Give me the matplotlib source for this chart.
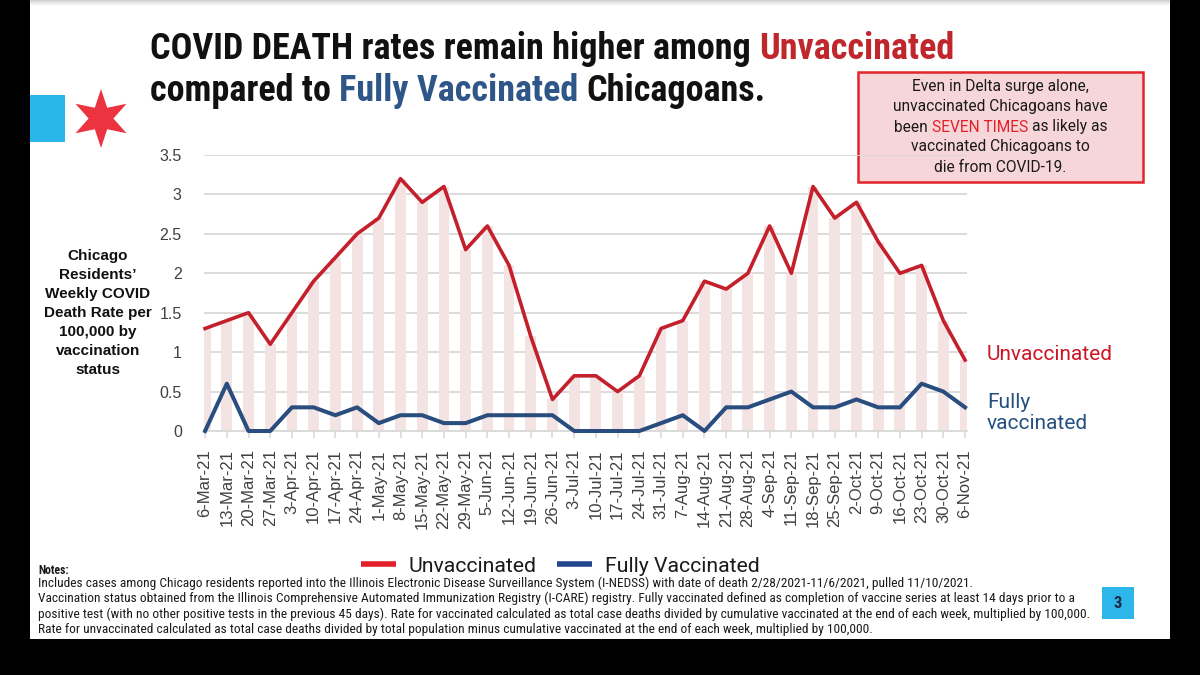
import matplotlib
matplotlib.use('Agg')
import matplotlib.pyplot as plt
import numpy as np
from matplotlib import font_manager as fm
from matplotlib.patches import Rectangle, Polygon
from matplotlib.lines import Line2D

# ---------------- data ----------------
dates = ["6-Mar-21", "13-Mar-21", "20-Mar-21", "27-Mar-21", "3-Apr-21", "10-Apr-21",
         "17-Apr-21", "24-Apr-21", "1-May-21", "8-May-21", "15-May-21", "22-May-21",
         "29-May-21", "5-Jun-21", "12-Jun-21", "19-Jun-21", "26-Jun-21", "3-Jul-21",
         "10-Jul-21", "17-Jul-21", "24-Jul-21", "31-Jul-21", "7-Aug-21", "14-Aug-21",
         "21-Aug-21", "28-Aug-21", "4-Sep-21", "11-Sep-21", "18-Sep-21", "25-Sep-21",
         "2-Oct-21", "9-Oct-21", "16-Oct-21", "23-Oct-21", "30-Oct-21", "6-Nov-21"]
unvaccinated = [1.3, 1.4, 1.5, 1.1, 1.5, 1.9, 2.2, 2.5, 2.7, 3.2, 2.9, 3.1,
                2.3, 2.6, 2.1, 1.2, 0.4, 0.7, 0.7, 0.5, 0.7, 1.3, 1.4, 1.9,
                1.8, 2.0, 2.6, 2.0, 3.1, 2.7, 2.9, 2.4, 2.0, 2.1, 1.4, 0.9]
fully_vaccinated = [0.0, 0.6, 0.0, 0.0, 0.3, 0.3, 0.2, 0.3, 0.1, 0.2, 0.2, 0.1,
                    0.1, 0.2, 0.2, 0.2, 0.2, 0.0, 0.0, 0.0, 0.0, 0.1, 0.2, 0.0,
                    0.3, 0.3, 0.4, 0.5, 0.3, 0.3, 0.4, 0.3, 0.3, 0.6, 0.5, 0.3]
y_ticks = [0, 0.5, 1, 1.5, 2, 2.5, 3, 3.5]
y_tick_labels = ["0", "0.5", "1", "1.5", "2", "2.5", "3", "3.5"]
series_names = ["Unvaccinated", "Fully Vaccinated"]

title_line1 = [("COVID DEATH rates remain higher among", "#111111"), ("Unvaccinated", "#c0272d")]
title_line2 = [("compared to", "#111111"), ("Fully Vaccinated", "#2f5688"), ("Chicagoans.", "#111111")]
callout_lines = [
    [("Even in Delta surge alone,", "#1a1a1a")],
    [("unvaccinated Chicagoans have", "#1a1a1a")],
    [("been", "#1a1a1a"), ("SEVEN TIMES", "#e3202a"), ("as likely as", "#1a1a1a")],
    [("vaccinated Chicagoans to", "#1a1a1a")],
    [("die from COVID-19.", "#1a1a1a")],
]
notes = [
    "Includes cases among Chicago residents reported into the Illinois Electronic Disease Surveillance System (I-NEDSS) with date of death 2/28/2021-11/6/2021, pulled 11/10/2021.",
    "Vaccination status obtained from the Illinois Comprehensive Automated Immunization Registry (I-CARE) registry. Fully vaccinated defined as completion of vaccine series at least 14 days prior to a",
    "positive test (with no other positive tests in the previous 45 days). Rate for vaccinated calculated as total case deaths divided by cumulative vaccinated at the end of each week, multiplied by 100,000.",
    "Rate for unvaccinated calculated as total case deaths divided by total population minus cumulative vaccinated at the end of each week, multiplied by 100,000.",
]

# ---------------- fonts ----------------
available = {f.name for f in fm.fontManager.ttflist}
def pick(*names):
    for n in names:
        if n in available:
            return n
    return 'DejaVu Sans'

NARROW = pick('Liberation Sans Narrow', 'DejaVu Sans Condensed', 'Roboto Condensed', 'Liberation Sans')
ROBOTO = pick('Roboto', 'DejaVu Sans')
CAL = pick('Liberation Sans', 'DejaVu Sans')

W, H = 1200, 675
fig = plt.figure(figsize=(12, 6.75), dpi=100, facecolor='black')
renderer = fig.canvas.get_renderer()

def fx(x):
    return x / W

def fy(y):
    return 1 - y / H

def wpx(t):
    return t.get_window_extent(renderer).width

def add_rect(x0, y0, x1, y1, **kw):
    r = Rectangle((fx(x0), fy(y1)), fx(x1) - fx(x0), fy(y0) - fy(y1),
                  transform=fig.transFigure, **kw)
    fig.patches.append(r)
    return r

# white slide with faint top shadow
add_rect(30, 0, 1170, 639, facecolor='white', edgecolor='none', zorder=-5)
for i, g in enumerate([0.82, 0.86, 0.9, 0.93, 0.96, 0.98]):
    add_rect(30, i, 1170, i + 1, facecolor=(g, g, g), edgecolor='none', zorder=-4)

# logo: blue block and Chicago star
add_rect(30, 95, 65, 142, facecolor='#2bb6ea', edgecolor='none', zorder=1)
cx, cy, R = 101, 118.5, 29.5
verts = []
for k in range(12):
    ang = np.deg2rad(90 + 30 * k)
    r = R if k % 2 == 0 else R * 0.42
    verts.append((fx(cx + r * np.cos(ang)), fy(cy - r * np.sin(ang))))
fig.patches.append(Polygon(verts, closed=True, transform=fig.transFigure,
                           facecolor='#ec3340', edgecolor='none', zorder=1))

# ---------------- piecewise coloured text ----------------
def place_pieces(pieces, x0, y, size, family, weight='normal', ha='left', va='baseline'):
    objs = [fig.text(0, fy(y), s, color=c, fontsize=size, family=family,
                     weight=weight, va=va, zorder=5) for s, c in pieces]
    t1 = fig.text(0, 0, "a a", fontsize=size, family=family, weight=weight)
    t2 = fig.text(0, 0, "aa", fontsize=size, family=family, weight=weight)
    sp = wpx(t1) - wpx(t2)
    t1.remove(); t2.remove()
    widths = [wpx(t) for t in objs]
    total = sum(widths) + sp * (len(objs) - 1)
    x = x0 if ha == 'left' else x0 - total / 2
    for t, w in zip(objs, widths):
        t.set_x(fx(x))
        x += w + sp
    return objs

# title size fitted to the reference width of line 1
probe = fig.text(0, 0, " ".join(s for s, _ in title_line1), fontsize=30,
                 family=NARROW, weight='bold')
title_size = 30 * 805 / wpx(probe)
probe.remove()
place_pieces(title_line1, 150, 59, title_size, NARROW, 'bold')
place_pieces(title_line2, 150, 101, title_size, NARROW, 'bold')

# ---------------- chart ----------------
ax = fig.add_axes([fx(204), fy(431), fx(967) - fx(204), fy(155) - fy(431)])
ax.set_zorder(3)
ax.set_facecolor('none')
x = np.arange(len(dates))
ax.bar(x, unvaccinated, width=0.5, color='#f4e3e3', zorder=1)
ax.plot(x, unvaccinated, color='#c3202b', lw=2.6, zorder=3, clip_on=False)
ax.plot(x, fully_vaccinated, color='#284d7e', lw=2.9, zorder=3, clip_on=False)
ax.set_xlim(-0.05, len(dates) - 1 + 0.09)
ax.set_ylim(0, 3.5)
ax.set_yticks(y_ticks)
ax.set_yticklabels(y_tick_labels, family=CAL, fontsize=11.5, color='#404040')
ax.yaxis.grid(True, color='#d9d9d9', lw=1.3)
ax.set_axisbelow(True)
for s in ['top', 'right', 'left']:
    ax.spines[s].set_visible(False)
ax.spines['bottom'].set_color('#d9d9d9')
ax.spines['bottom'].set_linewidth(1.3)
ax.tick_params(axis='y', length=0, pad=16)
ax.set_xticks(x)
ax.set_xticklabels(dates, rotation=90, family=CAL, fontsize=12, color='#404040')
ax.tick_params(axis='x', length=5, color='#d9d9d9', width=1.2, pad=8)

# y axis title
fig.text(fx(98), fy(313), "Chicago\nResidents’\nWeekly COVID\nDeath Rate per\n100,000 by\nvaccination\nstatus",
         ha='center', va='center', fontsize=11, weight='bold', family=CAL,
         linespacing=1.45, color='#111111')

# direct labels at right
fig.text(fx(987), fy(354), "Unvaccinated", color='#cc1424', fontsize=15,
         family=ROBOTO, va='center')
fig.text(fx(987), fy(413), "Fully\nvaccinated", color='#23507f', fontsize=15,
         family=ROBOTO, va='center', linespacing=1.1)

# callout box
add_rect(858, 72, 1143, 182, facecolor='#f7d6d9', edgecolor='#e3242b', lw=1.8, zorder=2)
for i, pieces in enumerate(callout_lines):
    place_pieces(pieces, 1000.5, 87 + 20 * i, 11.2, ROBOTO, ha='center', va='center')

# legend
handles = [Line2D([], [], color='#e3202a', lw=4, solid_capstyle='butt'),
           Line2D([], [], color='#22468c', lw=4, solid_capstyle='butt')]
fig.legend(handles, series_names, loc='center', bbox_to_anchor=(fx(560), fy(566)),
           ncol=2, frameon=False, handlelength=1.65, columnspacing=0.95, handletextpad=0.6,
           prop={'family': ROBOTO, 'size': 15.3}, labelcolor='#1a1a1a')

# notes
fig.text(fx(38), fy(570), "Notes:", weight='bold', family=NARROW, fontsize=8.5,
         color='#1a1a1a', va='center')
probe = fig.text(0, 0, notes[2], fontsize=10, family=NARROW)
note_size = 10 * 1041 / wpx(probe)
probe.remove()
for i, line in enumerate(notes):
    fig.text(fx(38), fy(583 + 15.5 * i), line, family=NARROW, fontsize=note_size,
             color='#1a1a1a', va='center')

# page number
add_rect(1102, 587, 1134, 619, facecolor='#2db6ea', edgecolor='none', zorder=2)
fig.text(fx(1118), fy(603), "3", family=NARROW, weight='bold', fontsize=12,
         color='#1b2a48', ha='center', va='center', zorder=5)

fig.savefig('out.png', dpi=100, facecolor='black')
